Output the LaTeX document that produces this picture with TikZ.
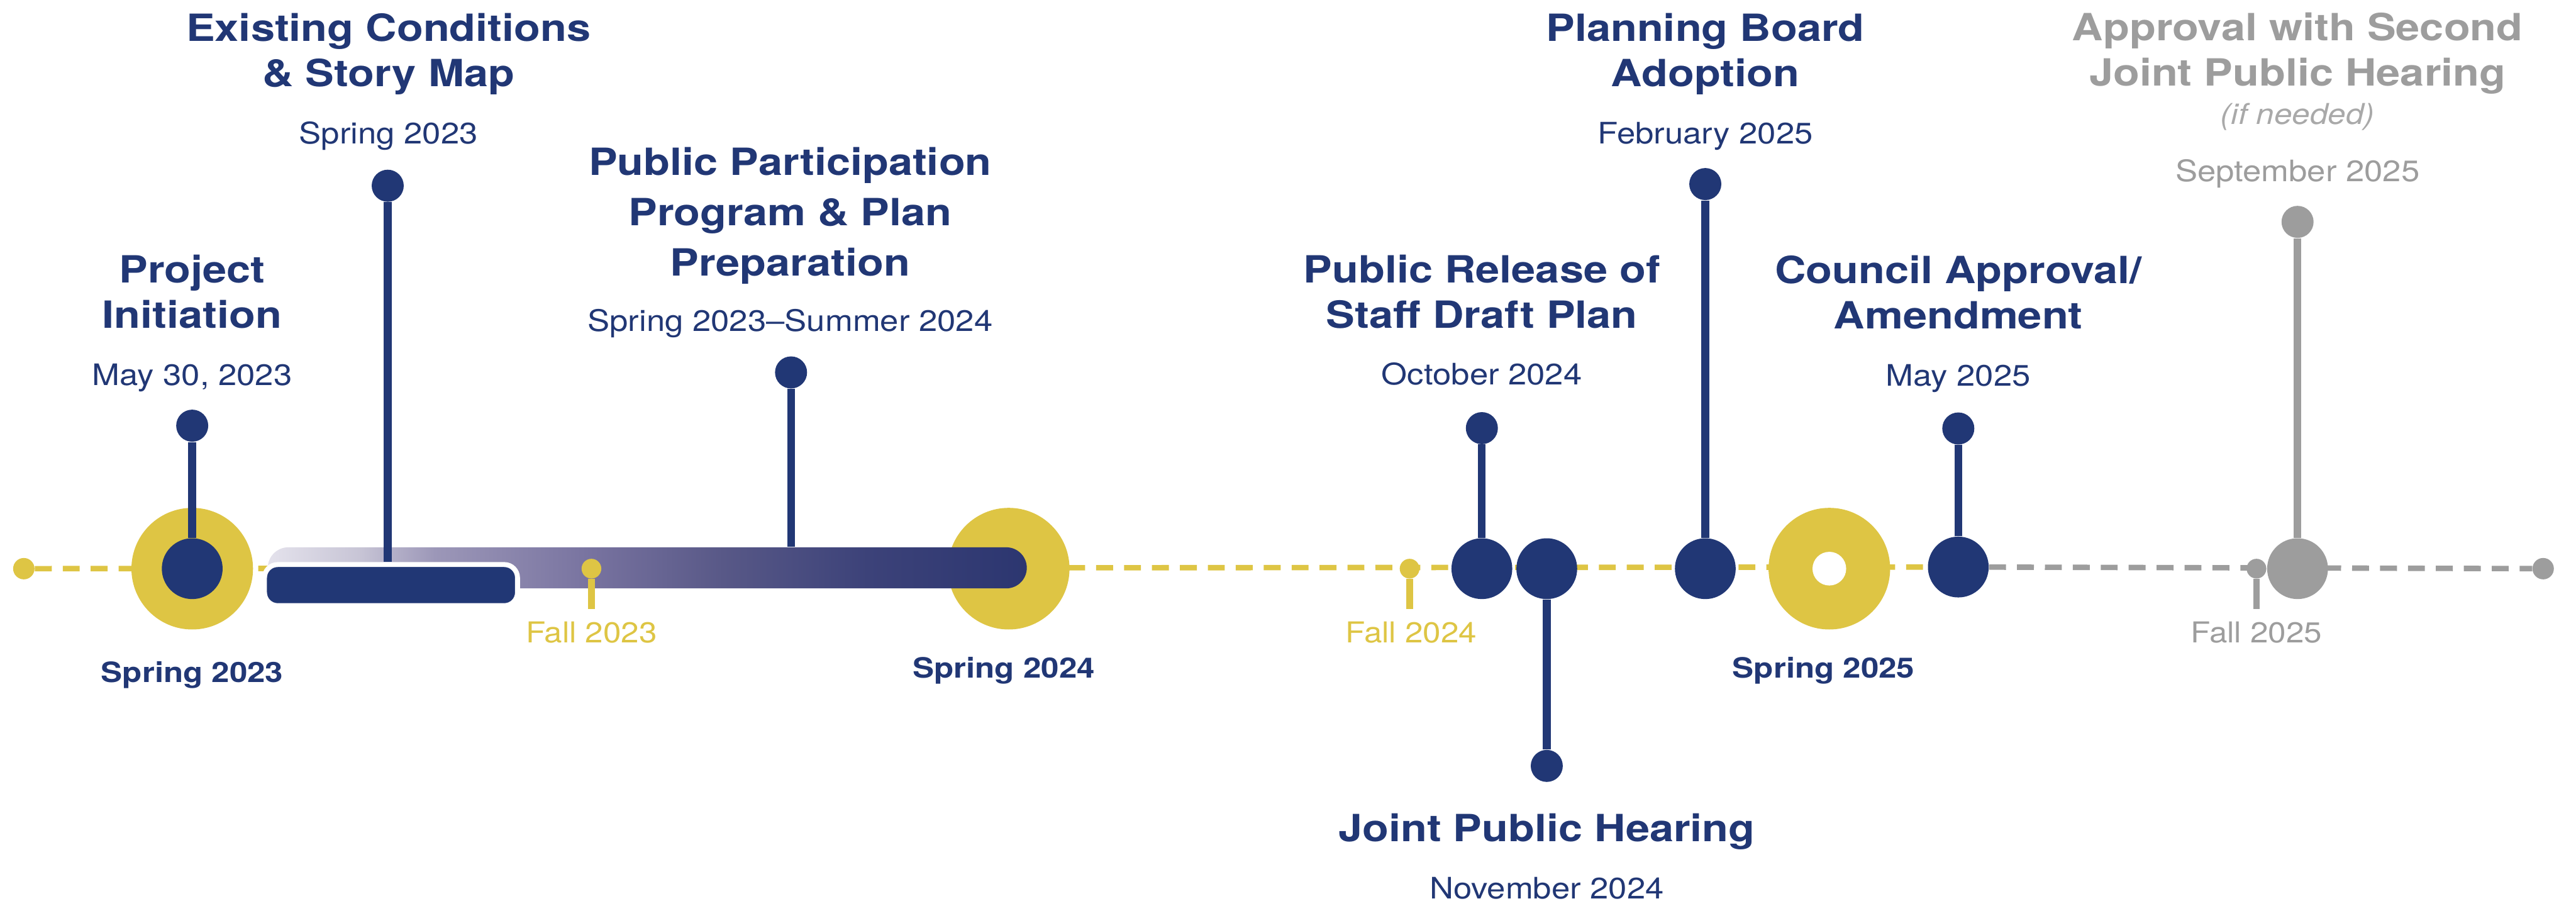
\documentclass[tikz,border=0pt]{standalone}
\usepackage{fontspec}
\setmainfont{TeX Gyre Heros}
\newfontfamily\headfont[FakeStretch=1.15]{TeX Gyre Heros}
\newfontfamily\datefont[FakeStretch=1.12]{TeX Gyre Heros}
\usetikzlibrary{shapes.misc}

\definecolor{navy}{HTML}{213775}
\definecolor{gold}{HTML}{DEC544}
\definecolor{stone}{HTML}{9D9D9D}
\definecolor{mist}{HTML}{A9A9A9}
\definecolor{fadeA}{HTML}{E4E2EC}
\definecolor{fadeB}{HTML}{C8C5D6}
\definecolor{fadeC}{HTML}{9C97B8}
\definecolor{fadeD}{HTML}{77729F}
\definecolor{fadeE}{HTML}{585887}
\definecolor{fadeF}{HTML}{3C4279}
\definecolor{fadeG}{HTML}{2C3670}

% purple-to-navy fade of the long planning bar
\pgfdeclarehorizontalshading{barfade}{100bp}{color(0bp)=(fadeA); color(25bp)=(fadeA);
  color(31bp)=(fadeB); color(36bp)=(fadeC); color(46.5bp)=(fadeD); color(55bp)=(fadeE);
  color(64.5bp)=(fadeF); color(75bp)=(fadeG); color(100bp)=(fadeG)}

\pgfdeclarelayer{track}
\pgfsetlayers{track,main}

\begin{document}
\begin{tikzpicture}[x=1pt,y=-1pt,
  ring/.style={circle,fill=gold,inner sep=0pt,minimum size=74pt},
  hole/.style={circle,fill=white,inner sep=0pt,minimum size=20.5pt},
  hub/.style={circle,fill=navy,inner sep=0pt,minimum size=37pt},
  knob/.style={circle,fill=navy,inner sep=0pt,minimum size=19.5pt},
  pip/.style={circle,fill=gold,inner sep=0pt,minimum size=12pt},
  stem/.style={navy,line width=4.7pt},
  tick/.style={gold,line width=4pt},
  dashline/.style={line width=3.3pt,dash pattern=on 10.3pt off 6.7pt},
  % multi-line titles are placed by the baseline of their last line
  title/.style={font=\headfont\bfseries\fontsize{22.8}{27.5}\selectfont,text=navy,
    align=center,inner sep=0pt,anchor=base},
  when/.style={font=\datefont\fontsize{18}{22}\selectfont,text=navy,inner sep=0pt,anchor=base},
  season/.style={font=\headfont\bfseries\fontsize{17}{20}\selectfont,text=navy,inner sep=0pt,anchor=base},
  fall/.style={font=\datefont\fontsize{17.5}{20}\selectfont,text=gold,inner sep=0pt,anchor=base},
]
\useasboundingbox (0,0) rectangle (1568,551);

% ---- track ends and seasonal rings ----
\node[pip,minimum size=13pt] (start) at (14.5,346) {};
\node[pip,fill=stone,minimum size=13pt] (finish) at (1548,346) {};
\node[ring] (r1) at (117,346) {};
\node[ring] (r2) at (614,346) {};
\node[ring] (r3) at (1113.5,346) {};
\node[hole] (r3h) at (1113.5,346) {};

% ---- long planning bar and the existing-conditions block ----
\node[rounded rectangle,shade,shading=barfade,inner sep=0pt,
      minimum width=462pt,minimum height=25pt] (bar) at (394,345.5) {};
\node[rectangle,rounded corners=8pt,fill=navy,draw=white,line width=3pt,
      minimum width=154pt,minimum height=25pt,inner sep=0pt] (box) at (238,356) {};

% ---- milestone hubs on the track ----
\node[hub] (hPI) at (117,346) {};
\node[hub] (hPR) at (902,346) {};
\node[hub] (hJH) at (941.5,346) {};
\node[hub] (hPB) at (1038,346) {};
\node[hub] (hCA) at (1192,345) {};
\node[hub,fill=stone] (hAP) at (1398.5,346) {};

% ---- season ticks ----
\node[pip] (f23) at (360,346) {};
\coordinate (f23e) at (360,370.5);
\node[pip] (f24) at (858,346) {};
\coordinate (f24e) at (858,370.5);
\node[pip,fill=stone] (f25) at (1373.5,346) {};
\coordinate (f25e) at (1373.5,370.5);
\draw[tick] (f23) -- (f23e);
\draw[tick] (f24) -- (f24e);
\draw[tick,stone] (f25) -- (f25e);

% ---- dashed timeline ----
\begin{pgfonlayer}{track}
  \draw[dashline,gold] (start) -- (hCA);
  \draw[dashline,stone] (hCA) -- (finish);
\end{pgfonlayer}

% ---- lollipop heads ----
\node[knob] (dPI) at (117,259) {};
\node[knob] (dEC) at (236,113) {};
\node[knob] (dPP) at (481.5,226.6) {};
\node[knob] (dPR) at (902,260.5) {};
\node[knob] (dJH) at (941.5,466) {};
\node[knob] (dPB) at (1038,112) {};
\node[knob] (dCA) at (1192,260.7) {};
\node[knob,fill=stone] (dAP) at (1398.5,135) {};

\draw[stem] (dPI) -- (hPI);
\draw[stem] (dEC) -- (dEC |- box.north);
\draw[stem] (dPP) -- (dPP |- bar.north);
\draw[stem] (dPR) -- (hPR);
\draw[stem] (hJH) -- (dJH);
\draw[stem] (dPB) -- (hPB);
\draw[stem] (dCA) -- (hCA);
\draw[stem,stone] (dAP) -- (hAP);

% ---- milestone labels ----
\node[title] (tPI) at (117,199.5) {Project\\Initiation};
\node[when] (wPI) at (117,234.5) {May 30, 2023};

\node[title] (tEC) at (236.5,52.5) {Existing Conditions\\\& Story Map};
\node[when] (wEC) at (236.5,87.3) {Spring 2023};

\node[title,font=\headfont\bfseries\fontsize{22.8}{30.5}\selectfont] (tPP) at (481,167.7)
  {Public Participation\\Program \& Plan\\Preparation};
\node[when] (wPP) at (481,201.6) {Spring 2023–Summer 2024};

\node[title] (tPR) at (902,199.5) {Public Release of\\Staff Draft Plan};
\node[when] (wPR) at (902,234) {October 2024};

\node[title] (tJH) at (941.5,512) {Joint Public Hearing};
\node[when] (wJH) at (941.5,547) {November 2024};

\node[title] (tPB) at (1038,52.5) {Planning Board\\Adoption};
\node[when] (wPB) at (1038,87.3) {February 2025};

\node[title] (tCA) at (1192,200) {Council Approval/\\Amendment};
\node[when] (wCA) at (1192,235) {May 2025};

\node[title,text=stone] (tAP) at (1398.5,52.2) {Approval with Second\\Joint Public Hearing};
\node[when,text=mist,font=\datefont\itshape\fontsize{17.5}{20}\selectfont] (nAP) at (1398.5,75.7) {(if needed)};
\node[when,text=stone] (wAP) at (1398.5,110.4) {September 2025};

% ---- season labels ----
\node[season] (s23) at (117,415) {Spring 2023};
\node[season] (s24) at (611,412.5) {Spring 2024};
\node[season] (s25) at (1110,412.5) {Spring 2025};
\node[fall] (l23) at (360,391) {Fall 2023};
\node[fall] (l24) at (859,391) {Fall 2024};
\node[fall,text=stone] (l25) at (1373.5,391) {Fall 2025};
\end{tikzpicture}
\end{document}
